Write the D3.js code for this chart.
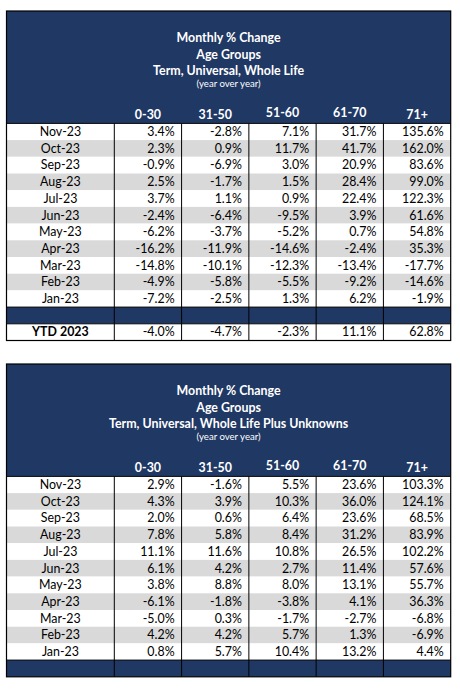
<!DOCTYPE html>
<html><head><meta charset="utf-8">
<script src="https://cdn.jsdelivr.net/npm/d3@7"></script>
<style>
html,body{margin:0;padding:0;background:#fff;}
svg text{font-family:Lato,"Open Sans",sans-serif;}
</style></head>
<body><svg id="c" width="460" height="690"></svg>
<script>
// ---------- data ----------
const ageGroups = ["0-30","31-50","51-60","61-70","71+"];
const months = ["Nov-23","Oct-23","Sep-23","Aug-23","Jul-23","Jun-23","May-23","Apr-23","Mar-23","Feb-23","Jan-23"];
const titleLines1 = ["Monthly % Change","Age Groups","Term, Universal, Whole Life"];
const titleLines2 = ["Monthly % Change","Age Groups","Term, Universal, Whole Life Plus Unknowns"];
const subtitle = "(year over year)";
const ytdLabel = "YTD 2023";
// table 1 values by month (rows) x age group (cols)
const t1Nov = [3.4,-2.8,7.1,31.7,135.6];
const t1Oct = [2.3,0.9,11.7,41.7,162.0];
const t1Sep = [-0.9,-6.9,3.0,20.9,83.6];
const t1Aug = [2.5,-1.7,1.5,28.4,99.0];
const t1Jul = [3.7,1.1,0.9,22.4,122.3];
const t1Jun = [-2.4,-6.4,-9.5,3.9,61.6];
const t1May = [-6.2,-3.7,-5.2,0.7,54.8];
const t1Apr = [-16.2,-11.9,-14.6,-2.4,35.3];
const t1Mar = [-14.8,-10.1,-12.3,-13.4,-17.7];
const t1Feb = [-4.9,-5.8,-5.5,-9.2,-14.6];
const t1Jan = [-7.2,-2.5,1.3,6.2,-1.9];
const t1Ytd = [-4.0,-4.7,-2.3,11.1,62.8];
// table 2 values
const t2Nov = [2.9,-1.6,5.5,23.6,103.3];
const t2Oct = [4.3,3.9,10.3,36.0,124.1];
const t2Sep = [2.0,0.6,6.4,23.6,68.5];
const t2Aug = [7.8,5.8,8.4,31.2,83.9];
const t2Jul = [11.1,11.6,10.8,26.5,102.2];
const t2Jun = [6.1,4.2,2.7,11.4,57.6];
const t2May = [3.8,8.8,8.0,13.1,55.7];
const t2Apr = [-6.1,-1.8,-3.8,4.1,36.3];
const t2Mar = [-5.0,0.3,-1.7,-2.7,-6.8];
const t2Feb = [4.2,4.2,5.7,1.3,-6.9];
const t2Jan = [0.8,5.7,10.4,13.2,4.4];

const table1 = [t1Nov,t1Oct,t1Sep,t1Aug,t1Jul,t1Jun,t1May,t1Apr,t1Mar,t1Feb,t1Jan];
const table2 = [t2Nov,t2Oct,t2Sep,t2Aug,t2Jul,t2Jun,t2May,t2Apr,t2Mar,t2Feb,t2Jan];

// ---------- drawing ----------
const NAVY = "#203864", GRAY = "#D9D9D9";
const svg = d3.select("#c");
const loc = d3.formatLocale({decimal: ".", thousands: ",", grouping: [3], currency: ["", ""], minus: "-"});
const fmt = v => loc.format(".1f")(v) + "%";

const xLeft = 6.5, xFirst = 114.3, xRight = 450.7;
const colX = d3.scaleBand().domain(ageGroups).range([xFirst, xRight]);
const headerH = 112.4, rowH = 16.7;

function drawTable(top, titles, rows, ytd) {
  const g = svg.append("g");
  const rowKeys = months.concat(["__band"]).concat(ytd ? [ytdLabel] : []);
  const yTop = top + headerH;
  const rowY = d3.scaleBand().domain(rowKeys).range([yTop, yTop + rowKeys.length * rowH]);
  const bottom = yTop + rowKeys.length * rowH;

  // header
  g.append("rect").attr("x", xLeft).attr("y", top).attr("width", xRight - xLeft).attr("height", headerH).attr("fill", NAVY);
  g.selectAll("text.title").data(titles).join("text")
    .attr("x", (xLeft + xRight) / 2).attr("y", (d, i) => top + 31 + i * 16.5)
    .attr("text-anchor", "middle").attr("fill", "#fff").attr("font-weight", "bold").attr("font-size", 12.4)
    .text(d => d);
  g.append("text").attr("x", (xLeft + xRight) / 2).attr("y", top + 75.5)
    .attr("text-anchor", "middle").attr("fill", "#fff").attr("font-size", 9.6).text(subtitle);
  g.selectAll("text.col").data(ageGroups).join("text")
    .attr("x", d => colX(d) + colX.bandwidth() / 2)
    .attr("y", (d, i) => top + headerH - 4 - ((i === 2 || i === 3) ? 2 : 0))
    .attr("text-anchor", "middle").attr("fill", "#fff").attr("font-weight", "bold").attr("font-size", 12.4)
    .text(d => d);

  // row backgrounds
  g.selectAll("rect.row").data(rowKeys).join("rect")
    .attr("x", xLeft).attr("y", d => rowY(d)).attr("width", xRight - xLeft).attr("height", rowY.bandwidth())
    .attr("fill", (d, i) => d === "__band" ? NAVY : (i % 2 === 1 && d !== ytdLabel ? GRAY : "#fff"));

  // month labels
  g.selectAll("text.m").data(months).join("text")
    .attr("x", (xLeft + xFirst) / 2).attr("y", d => rowY(d) + rowY.bandwidth() / 2 + 4.3)
    .attr("text-anchor", "middle").attr("font-size", 12.4).attr("fill", "#000").text(d => d);

  // values
  rows.forEach((vals, ri) => {
    g.selectAll("text.v" + ri).data(vals).join("text")
      .attr("x", (d, i) => colX(ageGroups[i]) + colX.bandwidth() - 7)
      .attr("y", rowY(months[ri]) + rowY.bandwidth() / 2 + 4.3)
      .attr("text-anchor", "end").attr("font-size", 12.4).attr("fill", "#000").text(d => fmt(d));
  });
  if (ytd) {
    g.append("text").attr("x", (xLeft + xFirst) / 2).attr("y", rowY(ytdLabel) + rowY.bandwidth() / 2 + 4.3)
      .attr("text-anchor", "middle").attr("font-size", 12.4).attr("font-weight", "bold").text(ytdLabel);
    g.selectAll("text.ytd").data(ytd).join("text")
      .attr("x", (d, i) => colX(ageGroups[i]) + colX.bandwidth() - 7)
      .attr("y", rowY(ytdLabel) + rowY.bandwidth() / 2 + 4.3)
      .attr("text-anchor", "end").attr("font-size", 12.4).text(d => fmt(d));
  }

  // lines
  const line = (x1, y1, x2, y2) => g.append("line").attr("x1", x1).attr("y1", y1).attr("x2", x2).attr("y2", y2)
    .attr("stroke", "#000").attr("stroke-width", 1);
  [xFirst].concat(ageGroups.slice(1).map(a => colX(a))).forEach(x => line(x, yTop, x, bottom));
  line(xLeft, yTop, xRight, yTop);
  line(xLeft, rowY("__band"), xRight, rowY("__band"));
  if (ytd) line(xLeft, rowY(ytdLabel), xRight, rowY(ytdLabel));
  g.append("rect").attr("x", xLeft).attr("y", top).attr("width", xRight - xLeft).attr("height", bottom - top)
    .attr("fill", "none").attr("stroke", "#000").attr("stroke-width", 1.2);
}

drawTable(11, titleLines1, table1, t1Ytd);
drawTable(364, titleLines2, table2, null);
</script></body></html>
